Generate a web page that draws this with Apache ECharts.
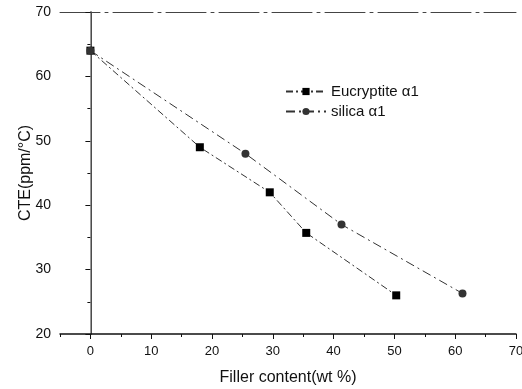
<!DOCTYPE html>
<html>
<head>
<meta charset="utf-8">
<script src="https://cdn.jsdelivr.net/npm/echarts@6/dist/echarts.min.js"></script>
<style>
  html, body { margin: 0; padding: 0; background: #fff; }
  #box { width: 522px; height: 389px; }
</style>
</head>
<body>
<div id="box"></div>
<script>
// data
const eucryptiteX = [0, 18, 29.5, 35.5, 50.3];
const eucryptiteY = [64, 49, 42, 35.7, 26];
const silicaX = [0, 25.5, 41.3, 61.2];
const silicaY = [64, 48, 37, 26.3];
const xMajorTicks = [0, 10, 20, 30, 40, 50, 60, 70];
const xMinorTicks = [-5, 5, 15, 25, 35, 45, 55, 65];

const font = '"Liberation Sans", Arial, sans-serif';
const pairs = (xs, ys) => xs.map((x, i) => [x, ys[i]]);

let myecharts = echarts.init(document.getElementById('box'));
let options = {
  animation: false,
  backgroundColor: '#fff',
  textStyle: { fontFamily: font },
  grid: { left: 60, right: 6, top: 12, bottom: 55, outerBoundsMode: 'none', containLabel: false },
  legend: {
    orient: 'vertical',
    left: 280,
    top: 79,
    itemWidth: 40,
    itemHeight: 9,
    itemGap: 5,
    textStyle: { fontFamily: font, fontSize: 15, color: '#111' },
    data: ['Eucryptite \u03b11', 'silica \u03b11']
  },
  xAxis: [{
    type: 'value',
    min: -5,
    max: 70,
    position: 'bottom',
    name: 'Filler content(wt %)',
    nameLocation: 'middle',
    nameGap: 36,
    nameMoveOverlap: false,
    nameTextStyle: { fontFamily: font, fontSize: 16, color: '#111' },
    axisLine: { lineStyle: { color: '#111', width: 1.5 } },
    axisTick: { show: true, length: 5, customValues: xMajorTicks, lineStyle: { color: '#111' } },
    axisLabel: { customValues: xMajorTicks, color: '#111', fontSize: 13, margin: 11 },
    splitLine: { show: false }
  }, {
    type: 'value',
    min: -5,
    max: 70,
    position: 'bottom',
    axisLine: { show: false },
    axisTick: { show: true, length: 3, customValues: xMinorTicks, lineStyle: { color: '#111' } },
    axisLabel: { show: false },
    splitLine: { show: false }
  }, {
    type: 'value',
    min: -5,
    max: 70,
    position: 'top',
    axisLine: { lineStyle: { color: '#444', width: 1, type: [40, 5, 3, 5] } },
    axisTick: { show: false },
    axisLabel: { show: false },
    splitLine: { show: false }
  }],
  yAxis: [{
    type: 'value',
    min: 20,
    max: 70,
    interval: 10,
    name: 'CTE(ppm/\u00b0C)',
    nameLocation: 'middle',
    nameGap: 26,
    nameMoveOverlap: false,
    nameTextStyle: { fontFamily: font, fontSize: 16, color: '#111' },
    axisLine: { show: true, lineStyle: { color: '#111', width: 1.5 } },
    axisTick: { show: true, length: 5, lineStyle: { color: '#111' } },
    minorTick: { show: true, splitNumber: 2, length: 3, lineStyle: { color: '#111' } },
    axisLabel: { color: '#111', fontSize: 14, margin: 9 },
    splitLine: { show: false }
  }, {
    type: 'value',
    min: 20,
    max: 70,
    position: 'right',
    axisLine: { show: true, lineStyle: { color: '#999', width: 1 } },
    axisTick: { show: false },
    axisLabel: { show: false },
    splitLine: { show: false }
  }],
  series: [{
    name: 'Eucryptite \u03b11',
    type: 'line',
    data: pairs(eucryptiteX, eucryptiteY),
    symbol: 'rect',
    symbolSize: 8,
    itemStyle: { color: '#000' },
    lineStyle: { color: '#333', width: 1, type: [7, 3, 2, 3] }
  }, {
    name: 'silica \u03b11',
    type: 'line',
    data: pairs(silicaX, silicaY),
    symbol: 'circle',
    symbolSize: 8,
    itemStyle: { color: '#333' },
    lineStyle: { color: '#333', width: 1, type: [9, 4, 2, 4] }
  }]
};
myecharts.setOption(options);
window.onresize = function () {
  myecharts.resize();
};
</script>
</body>
</html>
